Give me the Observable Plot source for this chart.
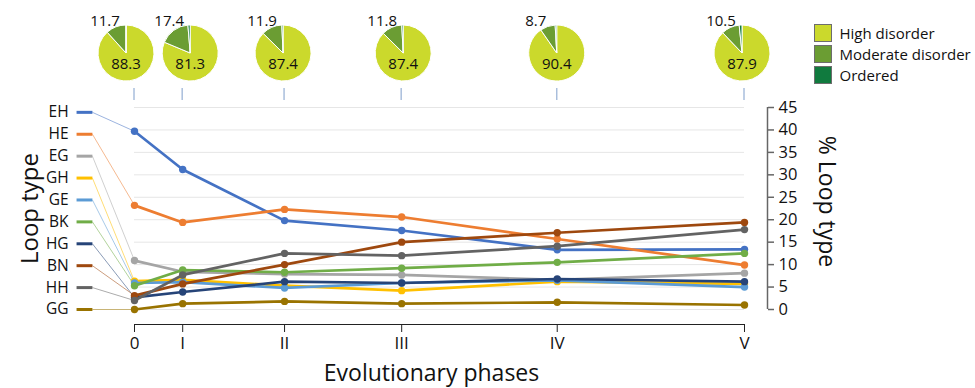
<!DOCTYPE html>
<html>
<head>
<meta charset="utf-8">
<script src="https://cdn.jsdelivr.net/npm/d3@7"></script>
<script src="https://cdn.jsdelivr.net/npm/@observablehq/plot@0.6"></script>
<style>
  html, body { margin: 0; padding: 0; background: #fff; }
  body { font-family: "Open Sans", sans-serif; }
  #wrap { position: relative; width: 975px; height: 388px; }
  #chart svg { display: block; }
  #legend { position: absolute; left: 814px; top: 23px; font-family: "Open Sans", sans-serif; font-size: 15px; color: #111; }
  #legend svg { outline: 1px solid #6d6d6d; outline-offset: -1px; }
</style>
</head>
<body>
<div id="wrap">
  <div id="chart"></div>
  <div id="legend"></div>
</div>
<script>
// ---- Data ----
const phases = ["0", "I", "II", "III", "IV", "V"];
const phaseTime = [0, 0.79, 2.46, 4.38, 6.93, 10];

const loopTypes = ["EH", "HE", "EG", "GH", "GE", "BK", "HG", "BN", "HH", "GG"];
const loopColors = ["#4472c4", "#ed7d31", "#a5a5a5", "#ffc000", "#5b9bd5", "#70ad47", "#264478", "#9e480e", "#636363", "#997300"];

const EH = [39.7, 31.2, 19.8, 17.6, 13.3, 13.4];
const HE = [23.2, 19.4, 22.3, 20.6, 15.7, 9.9];
const EG = [10.9, 8.4, 7.9, 7.7, 6.6, 8.1];
const GH = [6.3, 6.6, 5.3, 4.2, 6.2, 5.7];
const GE = [5.9, 6.1, 4.8, 5.9, 6.5, 5.0];
const BK = [5.3, 8.8, 8.3, 9.2, 10.5, 12.5];
const HG = [2.7, 3.9, 6.2, 5.9, 6.8, 6.2];
const BN = [3.1, 5.7, 10.0, 15.0, 17.1, 19.4];
const HH = [2.0, 7.7, 12.5, 12.0, 14.1, 17.8];
const GG = [0.0, 1.3, 1.8, 1.3, 1.6, 1.0];

const yTicks = [0, 5, 10, 15, 20, 25, 30, 35, 40, 45];

const disorderClasses = ["High disorder", "Moderate disorder", "Ordered"];
const disorderColors = ["#cbd92c", "#6b9d33", "#107a3e"];
const highDisorder = [88.3, 81.3, 87.4, 87.4, 90.4, 87.9];
const moderateDisorder = [11.7, 17.4, 11.9, 11.8, 8.7, 10.5];
const ordered = [0.0, 1.3, 0.7, 0.8, 0.9, 1.6];

// ---- Derived tables ----
const seriesList = [EH, HE, EG, GH, GE, BK, HG, BN, HH, GG];
const rows = loopTypes.flatMap((t, i) =>
  seriesList[i].map((v, j) => ({type: t, time: phaseTime[j], value: v, color: loopColors[i]}))
);
const labelStep = 4.88;
const labelY = loopTypes.map((t, i) => (loopTypes.length - 1 - i) * labelStep);
const startValues = seriesList.map(s => s[0]);

// gutter layout (in x units left of phase 0)
const gutterText = -1.08, gutterLine1 = -0.95, gutterLine2 = -0.69;
const pieNudge = [-8, 8, -1, 2, 0, -2];

function pies(index, scales, values, dimensions) {
  const g = d3.create("svg:g");
  const pie = d3.pie().sort(null).startAngle(0).endAngle(2 * Math.PI);
  const arc = d3.arc().innerRadius(0).outerRadius(28);
  const cy = dimensions.marginTop - 54;
  phaseTime.forEach((t, j) => {
    const px = scales.x(t);
    const cx = px + pieNudge[j];
    g.append("line")
      .attr("x1", px).attr("x2", px)
      .attr("y1", dimensions.marginTop - 19).attr("y2", dimensions.marginTop - 7)
      .attr("stroke", "#a9bedc").attr("stroke-width", 1.5);
    const arcs = pie([highDisorder[j], moderateDisorder[j], ordered[j]]);
    const pg = g.append("g").attr("transform", `translate(${cx},${cy})`);
    pg.selectAll("path").data(arcs).join("path")
      .attr("d", arc)
      .attr("fill", (d, k) => disorderColors[k])
      .attr("stroke", "#fff").attr("stroke-width", 1);
    pg.append("text")
      .attr("x", 0).attr("y", 11).attr("dy", "0.35em")
      .attr("text-anchor", "middle").attr("font-size", 15).attr("fill", "#111")
      .text(highDisorder[j].toFixed(1));
    pg.append("text")
      .attr("x", -21).attr("y", -32).attr("dy", "0.35em")
      .attr("text-anchor", "middle").attr("font-size", 15).attr("fill", "#111")
      .text(moderateDisorder[j].toFixed(1));
  });
  return g.node();
}

const seriesMarks = loopTypes.flatMap((t, i) => [
  Plot.line(rows, {filter: d => d.type === t, x: "time", y: "value", stroke: "color", strokeWidth: 2.7}),
  Plot.dot(rows, {filter: d => d.type === t, x: "time", y: "value", fill: "color", r: 3.7})
]);

const chart = Plot.plot({
  width: 975,
  height: 388,
  marginLeft: 134,
  marginRight: 231,
  marginTop: 107,
  marginBottom: 79,
  style: {fontFamily: "Open Sans, sans-serif", fontSize: "16px", color: "#111", background: "#fff", overflow: "visible"},
  x: {domain: [0, 10], axis: null},
  y: {domain: [0, 45], axis: null},
  color: {type: "identity"},
  marks: [
    Plot.ruleY(yTicks, {x1: phaseTime[0], x2: phaseTime[phaseTime.length - 1], stroke: "#e6e6e6", strokeWidth: 1}),
    Plot.link(loopTypes, {
      x1: gutterLine2, y1: labelY, x2: phaseTime[0], y2: startValues,
      stroke: loopColors, strokeWidth: 0.9, strokeOpacity: 0.6
    }),
    Plot.link(loopTypes, {
      x1: gutterLine1, y1: labelY, x2: gutterLine2, y2: labelY,
      stroke: loopColors, strokeWidth: 3
    }),
    Plot.text(loopTypes, {x: gutterText, y: labelY, text: d => d, textAnchor: "end", fontSize: 15.5, fill: "#111"}),
    ...seriesMarks,
    // x axis
    Plot.ruleY([0], {x1: phaseTime[0], x2: phaseTime[phaseTime.length - 1], dy: 15, stroke: "#222", strokeWidth: 1.2}),
    Plot.axisX(phaseTime, {
      anchor: "bottom", dy: 15, tickSize: 8, tickPadding: 4, fontSize: 17,
      tickFormat: d => phases[phaseTime.indexOf(d)], label: null, stroke: "#222", fill: "#111"
    }),
    Plot.text(["Evolutionary phases"], {frameAnchor: "bottom", textAnchor: "middle", lineAnchor: "middle", dx: -8, dy: 64, fontSize: 23, fill: "#111"}),
    // right y axis
    Plot.ruleX([phaseTime[phaseTime.length - 1]], {y1: 0, y2: 45, dx: 23, stroke: "#666", strokeWidth: 1.5}),
    Plot.axisY(yTicks, {
      anchor: "right", dx: 23, tickSize: 6, tickPadding: 5, fontSize: 16.5,
      label: null, stroke: "#666", fill: "#111", strokeWidth: 1.5
    }),
    Plot.text(["% Loop type"], {frameAnchor: "right", textAnchor: "middle", lineAnchor: "middle", dx: 82, dy: -7, rotate: 90, fontSize: 23, fill: "#111"}),
    Plot.text(["Loop type"], {frameAnchor: "left", textAnchor: "middle", lineAnchor: "middle", dx: -104, rotate: -90, fontSize: 24, fill: "#111"}),
    pies
  ]
});
document.getElementById("chart").append(chart);

const legend = Plot.legend({
  color: {type: "ordinal", domain: disorderClasses, range: disorderColors},
  legend: "swatches",
  columns: 1,
  swatchSize: 18,
  style: {fontFamily: "Open Sans, sans-serif", fontSize: "15px", color: "#111"}
});
document.getElementById("legend").append(legend);
</script>
</body>
</html>
